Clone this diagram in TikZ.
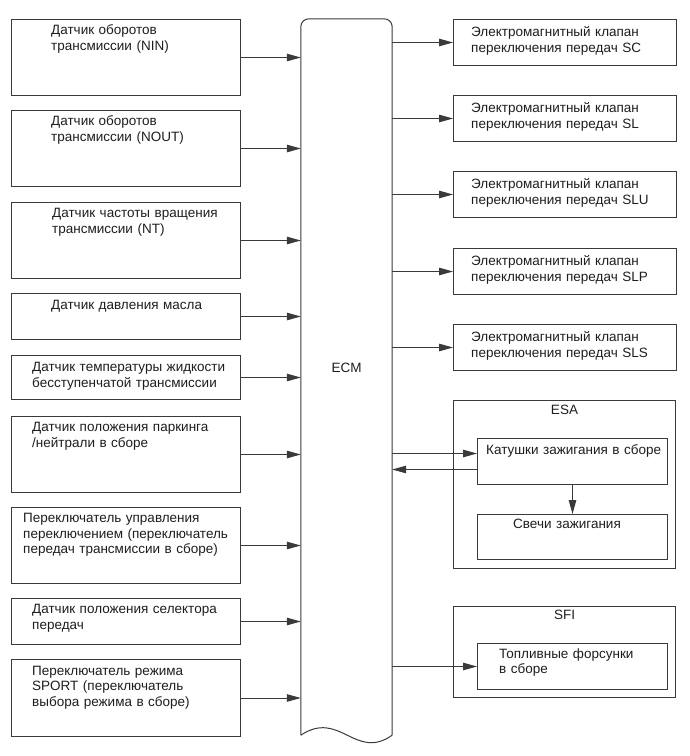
\documentclass[tikz,border=0pt]{standalone}
\usepackage{fontspec}
\setmainfont{Liberation Sans}
\usepackage{tikz}
\usetikzlibrary{arrows.meta,calc}
\definecolor{Frame}{HTML}{3A3A3A}
\definecolor{Ink}{HTML}{1E1E1E}
\tikzset{
  unit/.style={draw=Frame,line width=1pt,anchor=north west,inner sep=0pt,minimum width=229pt},
  valve/.style={unit,minimum width=223pt,minimum height=46pt},
  part/.style={unit,minimum width=190pt},
  txt/.style={inner sep=0pt,text=Ink,font=\fontsize{13.5}{15.5}\selectfont},
  para/.style={txt,anchor=base west,align=left,text width=215pt},
  arrow/.style={-{Triangle[length=14pt,width=7.5pt]},line width=1pt,draw=Frame}
}
\begin{document}
\begin{tikzpicture}[x=1pt,y=-1pt]
  \path[use as bounding box,fill=white] (0,0) rectangle (690,756);

  % ECM
  \node[minimum width=91pt,minimum height=716pt,inner sep=0pt,label={[txt,anchor=center,yshift=9pt]center:ECM}] (ecm) at (346.5,377) {};
  \draw[draw=Frame,line width=1pt,rounded corners=8pt] (ecm.south west) -- (ecm.north west) -- (ecm.north east) -- (ecm.south east);
  \draw[draw=Frame,line width=1pt] (ecm.south east) .. controls +(-37,26) and +(39,-26) .. (ecm.south west);

  % inputs
  \node[unit,minimum height=76pt,label={[para,xshift=40pt,yshift=-15.5pt]north west:{Датчик оборотов\\трансмиссии (NIN)}}] (nin) at (11,19) {};
  \node[unit,minimum height=76pt,label={[para,xshift=40pt,yshift=-15.5pt]north west:{Датчик оборотов\\трансмиссии (NOUT)}}] (nout) at (11,110) {};
  \node[unit,minimum height=76pt,label={[para,xshift=41pt,yshift=-15.5pt]north west:{Датчик частоты вращения\\трансмиссии (NT)}}] (nt) at (11,202) {};
  \node[unit,minimum height=46pt,label={[para,xshift=40pt,yshift=-16pt]north west:{Датчик давления масла}}] (oil) at (11,293) {};
  \node[unit,minimum height=44pt,label={[para,xshift=21pt,yshift=-16.5pt]north west:{Датчик температуры жидкости\\бесступенчатой трансмиссии}}] (temp) at (11,355) {};
  \node[unit,minimum height=76pt,label={[para,xshift=21pt,yshift=-15.5pt]north west:{Датчик положения паркинга\\/нейтрали в сборе}}] (park) at (11,416) {};
  \node[unit,minimum height=76pt,label={[para,xshift=12pt,yshift=-15.5pt]north west:{Переключатель управления\\переключением (переключатель\\передач трансмиссии в сборе)}}] (shift) at (11,507) {};
  \node[unit,minimum height=46pt,label={[para,xshift=21pt,yshift=-15.5pt]north west:{Датчик положения селектора\\передач}}] (sel) at (11,598) {};
  \node[unit,minimum height=77pt,label={[para,xshift=21pt,yshift=-16pt]north west:{Переключатель режима\\SPORT (переключатель\\выбора режима в сборе)}}] (sport) at (11,659) {};
  \foreach \n in {nin,nout,nt,oil,temp,park,shift,sel,sport}
    \draw[arrow] (\n.east) -- (\n.east -| ecm.west);

  % solenoid valves
  \node[valve,label={[para,xshift=18pt,yshift=-17.5pt]north west:{Электромагнитный клапан\\переключения передач SC}}] (sc) at (453,19) {};
  \node[valve,label={[para,xshift=18pt,yshift=-17.5pt]north west:{Электромагнитный клапан\\переключения передач SL}}] (sl) at (453,95) {};
  \node[valve,label={[para,xshift=18pt,yshift=-17.5pt]north west:{Электромагнитный клапан\\переключения передач SLU}}] (slu) at (453,171) {};
  \node[valve,label={[para,xshift=18pt,yshift=-17.5pt]north west:{Электромагнитный клапан\\переключения передач SLP}}] (slp) at (453,248) {};
  \node[valve,label={[para,xshift=18pt,yshift=-17.5pt]north west:{Электромагнитный клапан\\переключения передач SLS}}] (sls) at (453,324) {};
  \foreach \n in {sc,sl,slu,slp,sls}
    \draw[arrow] (\n.west -| ecm.east) -- (\n.west);

  % ESA
  \node[unit,minimum width=222pt,minimum height=168pt,label={[txt,anchor=base,yshift=-14pt]north:ESA}] (esa) at (453,400) {};
  \node[part,minimum height=46pt,label={[para,xshift=9pt,yshift=-16pt]north west:{Катушки зажигания в сборе}}] (coil) at (477,438) {};
  \node[part,minimum height=45pt,label={[para,xshift=36pt,yshift=-14.5pt]north west:{Свечи зажигания}}] (plug) at (477,514) {};
  \draw[arrow] ($(ecm.east |- coil.west)+(0,-8)$) -- ($(coil.west)+(0,-8)$);
  \draw[arrow] ($(coil.west)+(0,8)$) -- ($(ecm.east |- coil.west)+(0,8)$);
  \draw[arrow] (coil.south) -- (plug.north);

  % SFI
  \node[unit,minimum width=222pt,minimum height=91pt,label={[txt,anchor=base,yshift=-13pt]north:SFI}] (sfi) at (453,606) {};
  \node[part,minimum height=46pt,label={[para,xshift=22pt,yshift=-15pt]north west:{Топливные форсунки\\в сборе}}] (inj) at (477,643) {};
  \draw[arrow] (inj.west -| ecm.east) -- (inj.west);
\end{tikzpicture}
\end{document}
